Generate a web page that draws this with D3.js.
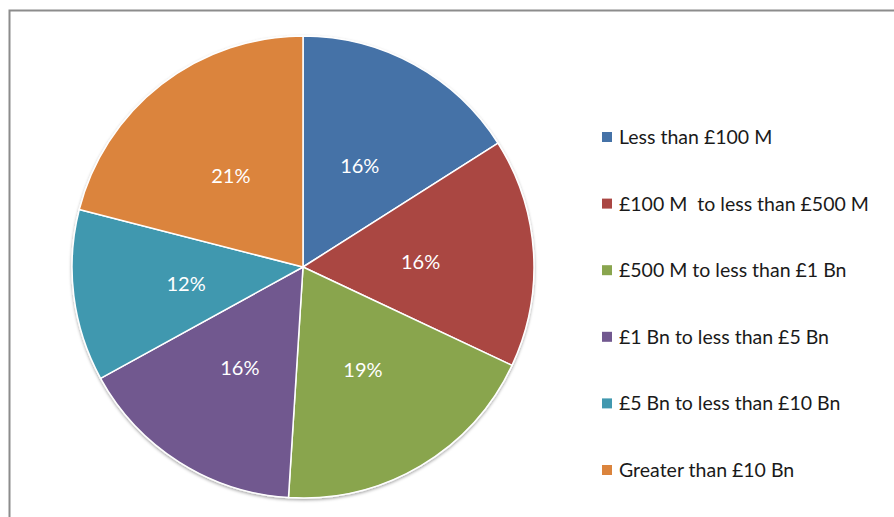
<!DOCTYPE html>
<html>
<head>
<meta charset="utf-8">
<script src="https://cdn.jsdelivr.net/npm/d3@7"></script>
<style>
  body { margin: 0; background: #fff; }
  svg { display: block; font-family: Lato, "Open Sans", sans-serif; }
</style>
</head>
<body>
<div id="chart"></div>
<script>
// Share of companies by size band
const categories = [
    "Less than £100 M",
    "£100 M\u00a0 to less than £500 M",
    "£500 M to less than £1 Bn",
    "£1 Bn to less than £5 Bn",
    "£5 Bn to less than £10 Bn",
    "Greater than £10 Bn"
];
const shares = [16, 16, 19, 16, 12, 21];
const colors = ["#4572A7", "#AA4643", "#89A54E", "#71588F", "#4198AF", "#DB843D"];

const width = 894;
const height = 517;
const cx = 303, cy = 267, radius = 231;

const svg = d3.select("#chart")
    .append("svg")
    .attr("width", width)
    .attr("height", height);

// chart area frame (only top and left edges are visible)
svg.append("rect")
    .attr("x", 9.5)
    .attr("y", 10.5)
    .attr("width", width + 20)
    .attr("height", height + 20)
    .attr("fill", "none")
    .attr("stroke", "#8c8c8c")
    .attr("stroke-width", 2);

const defs = svg.append("defs");
const shadow = defs.append("filter").attr("id", "shadow")
    .attr("x", "-10%").attr("y", "-10%").attr("width", "120%").attr("height", "120%");
shadow.append("feDropShadow")
    .attr("dx", 0).attr("dy", 1.5).attr("stdDeviation", 1.5)
    .attr("flood-color", "#000").attr("flood-opacity", 0.35);

const pie = d3.pie().sort(null).value(d => d);
const arcs = pie(shares);
const arc = d3.arc().innerRadius(0).outerRadius(radius);
const labelArc = d3.arc().innerRadius(radius * 0.51).outerRadius(radius * 0.51);

const g = svg.append("g").attr("transform", `translate(${cx},${cy})`);

g.append("g")
    .attr("filter", "url(#shadow)")
    .selectAll("path")
    .data(arcs)
    .join("path")
    .attr("d", arc)
    .attr("fill", (d, i) => colors[i])
    .attr("stroke", "#fff")
    .attr("stroke-width", 1.5)
    .attr("stroke-linejoin", "round");

g.append("g")
    .selectAll("text")
    .data(arcs)
    .join("text")
    .attr("transform", d => `translate(${labelArc.centroid(d)})`)
    .attr("text-anchor", "middle")
    .attr("dy", "0.45em")
    .attr("fill", "#fff")
    .style("font-size", "20px")
    .text(d => d.data + "%");

// Legend
const legendY = d3.scalePoint().domain(d3.range(categories.length)).range([137, 470]);
const legend = svg.append("g")
    .selectAll("g")
    .data(categories)
    .join("g")
    .attr("transform", (d, i) => `translate(602,${legendY(i)})`);

legend.append("rect")
    .attr("x", 0)
    .attr("y", -5)
    .attr("width", 10)
    .attr("height", 10)
    .attr("fill", (d, i) => colors[i]);

legend.append("text")
    .attr("x", 17)
    .attr("dy", "0.36em")
    .attr("fill", "#1a1a1a")
    .style("font-size", "19.5px")
    .text(d => d);
</script>
</body>
</html>
